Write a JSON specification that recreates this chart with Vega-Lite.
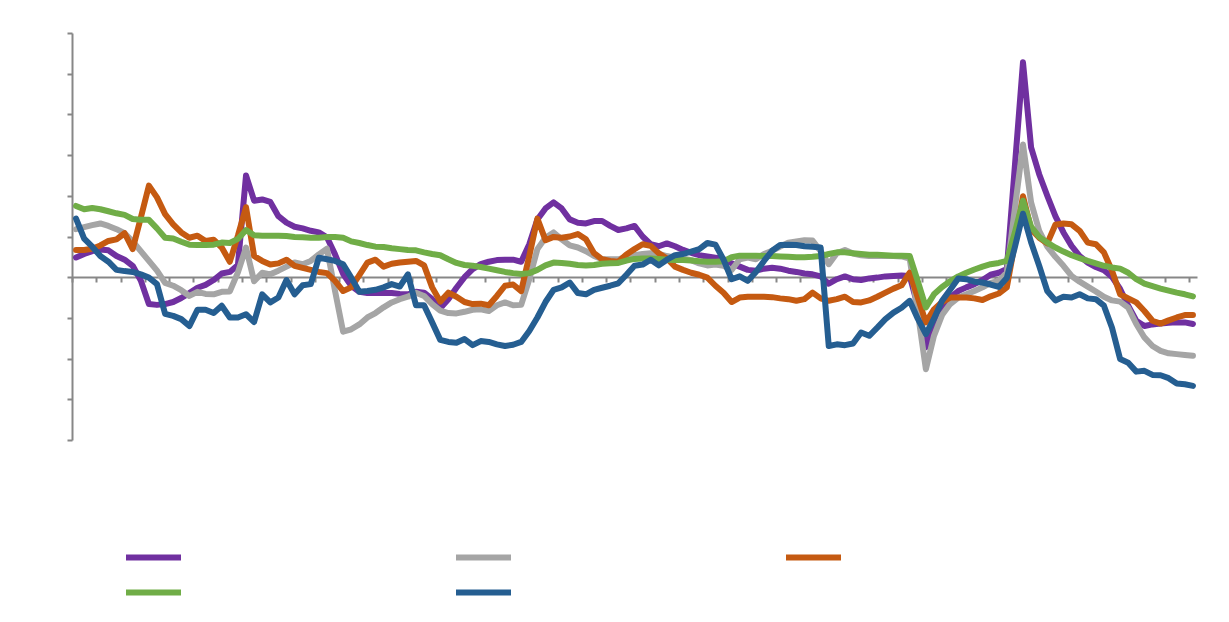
{
  "$schema": "https://vega.github.io/schema/vega-lite/v6.json",
  "width": 1125,
  "height": 407,
  "autosize": {"type": "none"},
  "padding": {"left": 72, "top": 33, "right": 32, "bottom": 182},
  "background": "white",
  "config": {"view": {"stroke": null}},
  "data": {
    "values": [
      {"t":1,"Series 1":2.42,"Series 2":5.9,"Series 3":3.35,"Series 4":8.75,"Series 5":7.2},
      {"t":2,"Series 1":2.85,"Series 2":6.15,"Series 3":3.35,"Series 4":8.35,"Series 5":4.75},
      {"t":3,"Series 1":3.2,"Series 2":6.4,"Series 3":3.5,"Series 4":8.5,"Series 5":3.75},
      {"t":4,"Series 1":3.4,"Series 2":6.6,"Series 3":3.9,"Series 4":8.35,"Series 5":2.6},
      {"t":5,"Series 1":3.3,"Series 2":6.3,"Series 3":4.45,"Series 4":8.1,"Series 5":1.9},
      {"t":6,"Series 1":2.6,"Series 2":5.9,"Series 3":4.65,"Series 4":7.85,"Series 5":0.9},
      {"t":7,"Series 1":2.15,"Series 2":5.4,"Series 3":5.4,"Series 4":7.65,"Series 5":0.75},
      {"t":8,"Series 1":1.4,"Series 2":4.4,"Series 3":3.45,"Series 4":7.15,"Series 5":0.65},
      {"t":9,"Series 1":-0.4,"Series 2":3.2,"Series 3":7.3,"Series 4":7.05,"Series 5":0.35},
      {"t":10,"Series 1":-3.3,"Series 2":2.0,"Series 3":11.25,"Series 4":7.05,"Series 5":-0.05},
      {"t":11,"Series 1":-3.4,"Series 2":0.8,"Series 3":9.8,"Series 4":6.0,"Series 5":-0.85},
      {"t":12,"Series 1":-3.3,"Series 2":-0.7,"Series 3":7.75,"Series 4":4.85,"Series 5":-4.5},
      {"t":13,"Series 1":-3.05,"Series 2":-1.05,"Series 3":6.5,"Series 4":4.75,"Series 5":-4.75},
      {"t":14,"Series 1":-2.55,"Series 2":-1.6,"Series 3":5.5,"Series 4":4.35,"Series 5":-5.15},
      {"t":15,"Series 1":-1.95,"Series 2":-2.3,"Series 3":4.85,"Series 4":4.0,"Series 5":-6.0},
      {"t":16,"Series 1":-1.3,"Series 2":-1.8,"Series 3":5.1,"Series 4":3.95,"Series 5":-4.0},
      {"t":17,"Series 1":-0.95,"Series 2":-2.05,"Series 3":4.45,"Series 4":3.95,"Series 5":-4.0},
      {"t":18,"Series 1":-0.35,"Series 2":-2.1,"Series 3":4.6,"Series 4":4.0,"Series 5":-4.4},
      {"t":19,"Series 1":0.45,"Series 2":-1.8,"Series 3":3.65,"Series 4":4.25,"Series 5":-3.5},
      {"t":20,"Series 1":0.65,"Series 2":-1.75,"Series 3":1.9,"Series 4":4.2,"Series 5":-4.95},
      {"t":21,"Series 1":1.5,"Series 2":0.6,"Series 3":5.1,"Series 4":4.7,"Series 5":-4.95},
      {"t":22,"Series 1":12.5,"Series 2":3.65,"Series 3":8.6,"Series 4":5.8,"Series 5":-4.55},
      {"t":23,"Series 1":9.4,"Series 2":-0.5,"Series 3":2.6,"Series 4":5.15,"Series 5":-5.5},
      {"t":24,"Series 1":9.55,"Series 2":0.55,"Series 3":2.0,"Series 4":5.1,"Series 5":-2.1},
      {"t":25,"Series 1":9.25,"Series 2":0.35,"Series 3":1.55,"Series 4":5.1,"Series 5":-3.1},
      {"t":26,"Series 1":7.5,"Series 2":0.8,"Series 3":1.7,"Series 4":5.1,"Series 5":-2.5},
      {"t":27,"Series 1":6.7,"Series 2":1.3,"Series 3":2.15,"Series 4":5.05,"Series 5":-0.35},
      {"t":28,"Series 1":6.2,"Series 2":1.8,"Series 3":1.4,"Series 4":4.95,"Series 5":-2.1},
      {"t":29,"Series 1":6.0,"Series 2":1.6,"Series 3":1.15,"Series 4":4.9,"Series 5":-1.0},
      {"t":30,"Series 1":5.7,"Series 2":2.0,"Series 3":0.9,"Series 4":4.85,"Series 5":-0.85},
      {"t":31,"Series 1":5.5,"Series 2":2.8,"Series 3":0.65,"Series 4":4.85,"Series 5":2.4},
      {"t":32,"Series 1":4.9,"Series 2":3.5,"Series 3":0.5,"Series 4":4.95,"Series 5":2.2},
      {"t":33,"Series 1":2.8,"Series 2":-1.7,"Series 3":-0.45,"Series 4":4.95,"Series 5":2.0},
      {"t":34,"Series 1":0.4,"Series 2":-6.7,"Series 3":-1.7,"Series 4":4.85,"Series 5":1.6},
      {"t":35,"Series 1":-1.05,"Series 2":-6.4,"Series 3":-1.25,"Series 4":4.4,"Series 5":-0.05},
      {"t":36,"Series 1":-1.8,"Series 2":-5.8,"Series 3":0.25,"Series 4":4.2,"Series 5":-1.8},
      {"t":37,"Series 1":-1.95,"Series 2":-4.95,"Series 3":1.8,"Series 4":3.95,"Series 5":-1.7},
      {"t":38,"Series 1":-1.9,"Series 2":-4.4,"Series 3":2.15,"Series 4":3.75,"Series 5":-1.55},
      {"t":39,"Series 1":-1.95,"Series 2":-3.7,"Series 3":1.3,"Series 4":3.7,"Series 5":-1.25},
      {"t":40,"Series 1":-1.95,"Series 2":-3.1,"Series 3":1.65,"Series 4":3.55,"Series 5":-0.85},
      {"t":41,"Series 1":-2.05,"Series 2":-2.7,"Series 3":1.8,"Series 4":3.45,"Series 5":-1.15},
      {"t":42,"Series 1":-2.1,"Series 2":-2.4,"Series 3":1.9,"Series 4":3.35,"Series 5":0.35},
      {"t":43,"Series 1":-1.8,"Series 2":-1.9,"Series 3":2.0,"Series 4":3.3,"Series 5":-3.45},
      {"t":44,"Series 1":-1.9,"Series 2":-2.3,"Series 3":1.45,"Series 4":3.05,"Series 5":-3.45},
      {"t":45,"Series 1":-2.7,"Series 2":-3.3,"Series 3":-1.25,"Series 4":2.85,"Series 5":-5.55},
      {"t":46,"Series 1":-3.8,"Series 2":-4.1,"Series 3":-3.0,"Series 4":2.7,"Series 5":-7.7},
      {"t":47,"Series 1":-2.7,"Series 2":-4.4,"Series 3":-1.9,"Series 4":2.2,"Series 5":-7.95},
      {"t":48,"Series 1":-1.3,"Series 2":-4.45,"Series 3":-2.4,"Series 4":1.75,"Series 5":-8.05},
      {"t":49,"Series 1":0.0,"Series 2":-4.25,"Series 3":-3.05,"Series 4":1.5,"Series 5":-7.6},
      {"t":50,"Series 1":1.0,"Series 2":-4.0,"Series 3":-3.3,"Series 4":1.4,"Series 5":-8.35},
      {"t":51,"Series 1":1.6,"Series 2":-3.95,"Series 3":-3.25,"Series 4":1.25,"Series 5":-7.85},
      {"t":52,"Series 1":1.9,"Series 2":-4.15,"Series 3":-3.45,"Series 4":1.05,"Series 5":-7.95},
      {"t":53,"Series 1":2.1,"Series 2":-3.45,"Series 3":-2.3,"Series 4":0.85,"Series 5":-8.25},
      {"t":54,"Series 1":2.15,"Series 2":-3.1,"Series 3":-1.05,"Series 4":0.65,"Series 5":-8.45},
      {"t":55,"Series 1":2.15,"Series 2":-3.45,"Series 3":-0.9,"Series 4":0.5,"Series 5":-8.3},
      {"t":56,"Series 1":1.9,"Series 2":-3.4,"Series 3":-1.7,"Series 4":0.4,"Series 5":-7.95},
      {"t":57,"Series 1":4.05,"Series 2":-0.25,"Series 3":2.6,"Series 4":0.5,"Series 5":-6.6},
      {"t":58,"Series 1":7.1,"Series 2":3.45,"Series 3":7.2,"Series 4":0.9,"Series 5":-4.95},
      {"t":59,"Series 1":8.45,"Series 2":4.85,"Series 3":4.55,"Series 4":1.45,"Series 5":-3.05},
      {"t":60,"Series 1":9.2,"Series 2":5.5,"Series 3":4.95,"Series 4":1.8,"Series 5":-1.55},
      {"t":61,"Series 1":8.45,"Series 2":4.65,"Series 3":4.85,"Series 4":1.75,"Series 5":-1.25},
      {"t":62,"Series 1":7.1,"Series 2":3.9,"Series 3":5.0,"Series 4":1.65,"Series 5":-0.65},
      {"t":63,"Series 1":6.7,"Series 2":3.65,"Series 3":5.3,"Series 4":1.5,"Series 5":-1.95},
      {"t":64,"Series 1":6.6,"Series 2":3.2,"Series 3":4.65,"Series 4":1.45,"Series 5":-2.1},
      {"t":65,"Series 1":6.9,"Series 2":2.6,"Series 3":2.95,"Series 4":1.5,"Series 5":-1.55},
      {"t":66,"Series 1":6.9,"Series 2":2.2,"Series 3":2.2,"Series 4":1.65,"Series 5":-1.3},
      {"t":67,"Series 1":6.3,"Series 2":2.2,"Series 3":2.0,"Series 4":1.7,"Series 5":-1.05},
      {"t":68,"Series 1":5.8,"Series 2":2.2,"Series 3":1.9,"Series 4":1.75,"Series 5":-0.75},
      {"t":69,"Series 1":6.0,"Series 2":2.5,"Series 3":2.8,"Series 4":2.05,"Series 5":0.3},
      {"t":70,"Series 1":6.3,"Series 2":2.7,"Series 3":3.45,"Series 4":2.25,"Series 5":1.4},
      {"t":71,"Series 1":5.0,"Series 2":2.85,"Series 3":4.05,"Series 4":2.3,"Series 5":1.55},
      {"t":72,"Series 1":4.05,"Series 2":2.95,"Series 3":3.85,"Series 4":2.3,"Series 5":2.15},
      {"t":73,"Series 1":3.8,"Series 2":2.85,"Series 3":2.95,"Series 4":2.25,"Series 5":1.45},
      {"t":74,"Series 1":4.15,"Series 2":2.6,"Series 3":2.3,"Series 4":2.15,"Series 5":2.15},
      {"t":75,"Series 1":3.8,"Series 2":2.4,"Series 3":1.3,"Series 4":2.1,"Series 5":2.7},
      {"t":76,"Series 1":3.35,"Series 2":2.3,"Series 3":0.9,"Series 4":2.1,"Series 5":2.85},
      {"t":77,"Series 1":3.0,"Series 2":2.1,"Series 3":0.55,"Series 4":2.05,"Series 5":3.15},
      {"t":78,"Series 1":2.7,"Series 2":1.7,"Series 3":0.3,"Series 4":1.95,"Series 5":3.45},
      {"t":79,"Series 1":2.55,"Series 2":1.45,"Series 3":-0.05,"Series 4":1.9,"Series 5":4.2},
      {"t":80,"Series 1":2.4,"Series 2":1.55,"Series 3":-1.05,"Series 4":1.9,"Series 5":4.0},
      {"t":81,"Series 1":2.2,"Series 2":1.4,"Series 3":-1.9,"Series 4":1.95,"Series 5":2.15},
      {"t":82,"Series 1":1.7,"Series 2":0.9,"Series 3":-3.05,"Series 4":2.45,"Series 5":-0.25},
      {"t":83,"Series 1":1.3,"Series 2":2.2,"Series 3":-2.5,"Series 4":2.65,"Series 5":0.1},
      {"t":84,"Series 1":0.9,"Series 2":2.4,"Series 3":-2.4,"Series 4":2.65,"Series 5":-0.45},
      {"t":85,"Series 1":0.8,"Series 2":2.2,"Series 3":-2.4,"Series 4":2.65,"Series 5":0.65},
      {"t":86,"Series 1":1.05,"Series 2":2.85,"Series 3":-2.4,"Series 4":2.6,"Series 5":2.0},
      {"t":87,"Series 1":1.15,"Series 2":3.25,"Series 3":-2.45,"Series 4":2.6,"Series 5":3.25},
      {"t":88,"Series 1":1.05,"Series 2":3.75,"Series 3":-2.6,"Series 4":2.55,"Series 5":3.95},
      {"t":89,"Series 1":0.8,"Series 2":4.25,"Series 3":-2.7,"Series 4":2.5,"Series 5":4.0},
      {"t":90,"Series 1":0.65,"Series 2":4.4,"Series 3":-2.9,"Series 4":2.45,"Series 5":3.95},
      {"t":91,"Series 1":0.45,"Series 2":4.55,"Series 3":-2.7,"Series 4":2.45,"Series 5":3.8},
      {"t":92,"Series 1":0.35,"Series 2":4.5,"Series 3":-1.9,"Series 4":2.5,"Series 5":3.75},
      {"t":93,"Series 1":0.1,"Series 2":3.2,"Series 3":-2.6,"Series 4":2.6,"Series 5":3.65},
      {"t":94,"Series 1":-0.8,"Series 2":1.6,"Series 3":-2.9,"Series 4":2.85,"Series 5":-8.45},
      {"t":95,"Series 1":-0.25,"Series 2":2.95,"Series 3":-2.7,"Series 4":3.05,"Series 5":-8.25},
      {"t":96,"Series 1":0.1,"Series 2":3.35,"Series 3":-2.4,"Series 4":3.05,"Series 5":-8.35},
      {"t":97,"Series 1":-0.25,"Series 2":2.9,"Series 3":-3.05,"Series 4":2.95,"Series 5":-8.15},
      {"t":98,"Series 1":-0.35,"Series 2":2.7,"Series 3":-3.1,"Series 4":2.85,"Series 5":-6.8},
      {"t":99,"Series 1":-0.15,"Series 2":2.6,"Series 3":-2.85,"Series 4":2.75,"Series 5":-7.2},
      {"t":100,"Series 1":-0.05,"Series 2":2.6,"Series 3":-2.4,"Series 4":2.75,"Series 5":-6.2},
      {"t":101,"Series 1":0.1,"Series 2":2.6,"Series 3":-1.9,"Series 4":2.7,"Series 5":-5.15},
      {"t":102,"Series 1":0.15,"Series 2":2.6,"Series 3":-1.4,"Series 4":2.65,"Series 5":-4.35},
      {"t":103,"Series 1":0.2,"Series 2":2.55,"Series 3":-1.0,"Series 4":2.65,"Series 5":-3.75},
      {"t":104,"Series 1":0.15,"Series 2":2.3,"Series 3":0.55,"Series 4":2.6,"Series 5":-2.9},
      {"t":105,"Series 1":-3.5,"Series 2":-4.3,"Series 3":-2.5,"Series 4":-0.5,"Series 5":-5.1},
      {"t":106,"Series 1":-8.6,"Series 2":-11.3,"Series 3":-5.55,"Series 4":-3.7,"Series 5":-7.0},
      {"t":107,"Series 1":-5.6,"Series 2":-7.2,"Series 3":-3.95,"Series 4":-2.1,"Series 5":-5.1},
      {"t":108,"Series 1":-3.5,"Series 2":-4.65,"Series 3":-3.05,"Series 4":-1.2,"Series 5":-2.9},
      {"t":109,"Series 1":-2.5,"Series 2":-3.3,"Series 3":-2.5,"Series 4":-0.5,"Series 5":-1.55},
      {"t":110,"Series 1":-1.7,"Series 2":-2.5,"Series 3":-2.5,"Series 4":0.1,"Series 5":-0.15},
      {"t":111,"Series 1":-1.25,"Series 2":-2.1,"Series 3":-2.5,"Series 4":0.55,"Series 5":-0.25},
      {"t":112,"Series 1":-0.85,"Series 2":-1.7,"Series 3":-2.6,"Series 4":0.95,"Series 5":-0.55},
      {"t":113,"Series 1":-0.35,"Series 2":-1.25,"Series 3":-2.8,"Series 4":1.3,"Series 5":-0.65},
      {"t":114,"Series 1":0.3,"Series 2":-0.7,"Series 3":-2.35,"Series 4":1.6,"Series 5":-0.9},
      {"t":115,"Series 1":0.55,"Series 2":-0.45,"Series 3":-2.0,"Series 4":1.75,"Series 5":-1.2},
      {"t":116,"Series 1":1.0,"Series 2":0.55,"Series 3":-1.25,"Series 4":2.0,"Series 5":-0.1},
      {"t":117,"Series 1":13.7,"Series 2":8.5,"Series 3":4.2,"Series 4":5.5,"Series 5":3.7},
      {"t":118,"Series 1":26.4,"Series 2":16.3,"Series 3":9.95,"Series 4":9.4,"Series 5":7.8},
      {"t":119,"Series 1":15.95,"Series 2":9.2,"Series 3":5.9,"Series 4":6.2,"Series 5":4.3},
      {"t":120,"Series 1":12.65,"Series 2":5.7,"Series 3":4.85,"Series 4":4.95,"Series 5":1.4},
      {"t":121,"Series 1":10.0,"Series 2":3.75,"Series 3":4.15,"Series 4":4.25,"Series 5":-1.7},
      {"t":122,"Series 1":7.5,"Series 2":2.5,"Series 3":6.45,"Series 4":3.65,"Series 5":-2.85},
      {"t":123,"Series 1":5.5,"Series 2":1.4,"Series 3":6.6,"Series 4":3.15,"Series 5":-2.4},
      {"t":124,"Series 1":3.85,"Series 2":0.15,"Series 3":6.5,"Series 4":2.7,"Series 5":-2.5},
      {"t":125,"Series 1":2.6,"Series 2":-0.55,"Series 3":5.7,"Series 4":2.35,"Series 5":-2.1},
      {"t":126,"Series 1":1.8,"Series 2":-1.15,"Series 3":4.25,"Series 4":2.0,"Series 5":-2.6},
      {"t":127,"Series 1":1.25,"Series 2":-1.75,"Series 3":4.05,"Series 4":1.7,"Series 5":-2.7},
      {"t":128,"Series 1":0.85,"Series 2":-2.4,"Series 3":3.05,"Series 4":1.4,"Series 5":-3.5},
      {"t":129,"Series 1":0.05,"Series 2":-2.85,"Series 3":0.8,"Series 4":1.2,"Series 5":-6.2},
      {"t":130,"Series 1":-1.45,"Series 2":-3.0,"Series 3":-2.1,"Series 4":1.05,"Series 5":-10.05},
      {"t":131,"Series 1":-3.5,"Series 2":-3.75,"Series 3":-2.6,"Series 4":0.55,"Series 5":-10.5},
      {"t":132,"Series 1":-5.35,"Series 2":-5.75,"Series 3":-3.1,"Series 4":-0.25,"Series 5":-11.6},
      {"t":133,"Series 1":-6.0,"Series 2":-7.4,"Series 3":-4.15,"Series 4":-0.8,"Series 5":-11.5},
      {"t":134,"Series 1":-5.8,"Series 2":-8.45,"Series 3":-5.35,"Series 4":-1.1,"Series 5":-12.0},
      {"t":135,"Series 1":-5.7,"Series 2":-9.05,"Series 3":-5.7,"Series 4":-1.4,"Series 5":-12.05},
      {"t":136,"Series 1":-5.6,"Series 2":-9.35,"Series 3":-5.3,"Series 4":-1.65,"Series 5":-12.4},
      {"t":137,"Series 1":-5.55,"Series 2":-9.45,"Series 3":-4.95,"Series 4":-1.9,"Series 5":-13.05},
      {"t":138,"Series 1":-5.55,"Series 2":-9.55,"Series 3":-4.65,"Series 4":-2.1,"Series 5":-13.15},
      {"t":139,"Series 1":-5.75,"Series 2":-9.65,"Series 3":-4.65,"Series 4":-2.35,"Series 5":-13.35}
    ]
  },
  "transform": [
    {"fold": ["Series 1", "Series 2", "Series 3", "Series 4", "Series 5"], "as": ["series", "value"]}
  ],
  "mark": {"type": "line", "strokeWidth": 6, "strokeCap": "round", "strokeJoin": "round"},
  "encoding": {
    "x": {
      "field": "t",
      "type": "quantitative",
      "scale": {"domain": [0.5, 139.5], "nice": false, "zero": false},
      "axis": {
        "values": [0.5,3.5,6.5,9.5,12.5,15.5,18.5,21.5,24.5,27.5,30.5,33.5,36.5,39.5,42.5,45.5,48.5,51.5,54.5,57.5,60.5,63.5,66.5,69.5,72.5,75.5,78.5,81.5,84.5,87.5,90.5,93.5,96.5,99.5,102.5,105.5,108.5,111.5,114.5,117.5,120.5,123.5,126.5,129.5,132.5,135.5,138.5],
        "labels": false,
        "title": null,
        "grid": false,
        "offset": -163,
        "domainColor": "#878787",
        "domainWidth": 2,
        "tickColor": "#878787",
        "tickWidth": 2,
        "tickSize": 5
      }
    },
    "y": {
      "field": "value",
      "type": "quantitative",
      "scale": {"domain": [-20, 30], "nice": false},
      "axis": {
        "values": [-20, -15, -10, -5, 0, 5, 10, 15, 20, 25, 30],
        "labels": false,
        "title": null,
        "grid": false,
        "domainColor": "#878787",
        "domainWidth": 2,
        "tickColor": "#878787",
        "tickWidth": 2,
        "tickSize": 5
      }
    },
    "color": {
      "field": "series",
      "type": "nominal",
      "scale": {
        "domain": ["Series 1", "Series 2", "Series 3", "Series 4", "Series 5"],
        "range": ["#7030A0", "#A5A5A5", "#C55A11", "#70AD47", "#255E91"]
      },
      "legend": {
        "orient": "none",
        "legendX": 51,
        "legendY": 507,
        "direction": "horizontal",
        "columns": 3,
        "symbolType": "stroke",
        "symbolSize": 3025,
        "symbolStrokeWidth": 6,
        "labelExpr": "''",
        "labelOffset": 0,
        "columnPadding": 269,
        "rowPadding": 0,
        "clipHeight": 35,
        "title": null,
        "padding": 0
      }
    }
  }
}
